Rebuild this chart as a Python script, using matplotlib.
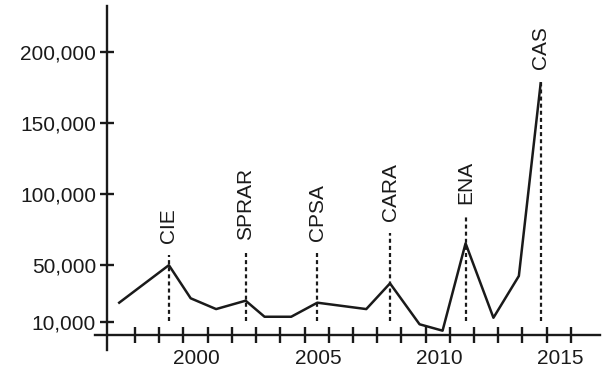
import numpy as np
import matplotlib.pyplot as plt
from matplotlib.ticker import FuncFormatter

# arrivals per year
years = [1996.8, 1998.85, 1999.75, 2000.8, 2002.02, 2002.8, 2003.9, 2004.98,
         2007.0, 2007.98, 2009.2, 2010.15, 2011.1, 2012.25, 2013.3, 2014.2]
arrivals = [23600, 50000, 26700, 19100, 25000, 13700, 13700, 23600,
            19100, 37200, 8400, 3900, 65400, 13000, 42400, 178000]

# policy milestones
event_names = ["CIE", "SPRAR", "CPSA", "CARA", "ENA", "CAS"]
event_years = [1998.85, 2002.02, 2004.98, 2007.98, 2011.1, 2014.2]
event_tops = [57000, 59000, 58500, 72500, 84000, 179000]

y_ticks = [10000, 50000, 100000, 150000, 200000]
x_labels = [2000, 2005, 2010, 2015]

plt.rcParams['font.family'] = ['Liberation Sans', 'DejaVu Sans']
ink = '#1a1a1a'
fs = 15

fig = plt.figure(figsize=(6.08, 3.71), dpi=100)
ax = fig.add_axes([95 / 608, 21 / 371, 505 / 608, 344 / 371])

ax.plot(years, arrivals, color=ink, lw=1.8, zorder=3)

for name, x, top in zip(event_names, event_years, event_tops):
    ax.plot([x, x], [11000, top], color=ink, lw=1.6,
            linestyle=(0, (1.8, 1.4)), zorder=2)
    ax.annotate(name, (x, top), xytext=(0, 9), textcoords='offset points',
                rotation=90, ha='center', va='bottom', fontsize=fs, color=ink)

ax.set_xlim(1995.8, 2016.65)
ax.set_ylim(-9700, 232400)

for s in ['top', 'right']:
    ax.spines[s].set_visible(False)
ax.spines['left'].set_position(('data', 1996.3))
ax.spines['bottom'].set_position(('data', 850))
for s in ['left', 'bottom']:
    ax.spines[s].set_linewidth(1.7)
    ax.spines[s].set_color(ink)

ax.set_yticks(y_ticks)
ax.yaxis.set_major_formatter(FuncFormatter(lambda v, p: f"{int(v):,}"))
ax.tick_params(axis='y', direction='inout', length=10, width=1.7,
               labelsize=fs, pad=3, color=ink, labelcolor=ink)

ax.set_xticks(x_labels)
ax.set_xticks(np.arange(1997, 2016) + 0.45, minor=True)
ax.tick_params(axis='x', which='major', length=0, labelsize=fs, pad=10,
               labelcolor=ink)
ax.tick_params(axis='x', which='minor', direction='inout', length=11,
               width=1.7, color=ink)

fig.savefig('out.png', dpi=100)
